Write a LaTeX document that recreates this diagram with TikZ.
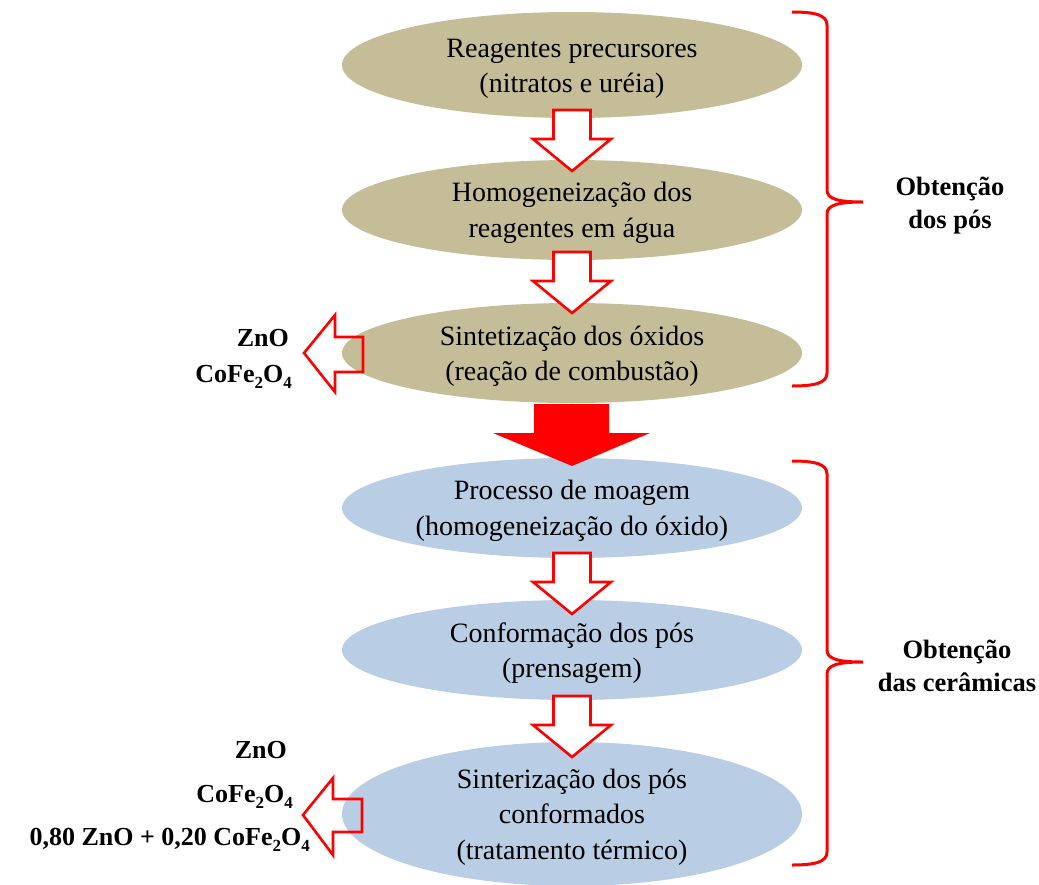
\documentclass[tikz,border=0pt]{standalone}
\usepackage{fontspec}
\setmainfont{Liberation Serif}
\usetikzlibrary{shapes.geometric}
\definecolor{tan}{RGB}{196,189,151}
\definecolor{lblue}{RGB}{185,205,229}
\definecolor{myred}{RGB}{255,0,0}
\tikzset{
  stage/.style={ellipse, minimum width=460pt, minimum height=100pt, inner sep=0pt},
  tanstage/.style={stage, fill=tan},
  bluestage/.style={stage, fill=lblue},
  stagetext/.style={align=center, inner sep=0pt, font=\fontsize{28}{35.5}\selectfont},
  hollow/.style={draw=myred, line width=2.6pt, fill=white, line join=miter},
  hollowopen/.style={draw=myred, line width=2.6pt, line join=miter},
  bracket/.style={draw=myred, line width=3pt},
  side/.style={font=\fontsize{26.5}{33}\bfseries\selectfont, align=center},
  prod/.style={font=\fontsize{26}{30}\bfseries\selectfont, anchor=base east, inner sep=0pt},
}
\newcommand{\mysub}[1]{\raisebox{-6pt}{\fontsize{17}{17}\bfseries\selectfont #1}}
\newcommand{\myDownArrow}[2]{%
  \draw[hollow] (#1-18.5,#2) -- (#1+18.5,#2) -- (#1+18.5,#2+29) -- (#1+39,#2+29) -- (#1,#2+61)
    -- (#1-39,#2+29) -- (#1-18.5,#2+29) -- cycle;}
\begin{document}
\begin{tikzpicture}[x=1pt,y=-1pt]
\useasboundingbox (0,0) rectangle (1039,884);
% stages
\node[tanstage, minimum height=106pt] (e1) at (572,65) {};
\node[tanstage] (e2) at (572,210) {};
\node[tanstage] (e3) at (572,353) {};
\node[bluestage] (e4) at (572,508) {};
\node[bluestage] (e5) at (572,650) {};
\node[bluestage, minimum height=144pt] (e6) at (572,814) {};
\node[stagetext] (t1) at ([yshift=-4pt]e1.center) {Reagentes precursores\\(nitratos e uréia)};
\node[stagetext] (t2) at ([yshift=-3pt]e2.center) {Homogeneização dos\\reagentes em água};
\node[stagetext] (t3) at ([yshift=-3pt]e3.center) {Sintetização dos óxidos\\(reação de combustão)};
\node[stagetext] (t4) at ([yshift=-3pt]e4.center) {Processo de moagem\\(homogeneização do óxido)};
\node[stagetext] (t5) at ([yshift=-3pt]e5.center) {Conformação dos pós\\(prensagem)};
\node[stagetext] (t6) at ([yshift=-3pt]e6.center) {Sinterização dos pós\\conformados\\(tratamento térmico)};
% down arrows
\myDownArrow{572}{110}
\myDownArrow{572}{252}
\myDownArrow{572}{553}
\myDownArrow{572}{696}
% big red arrow
\fill[myred] (534,404) -- (609,404) -- (609,433) -- (650,433) -- (572,466) -- (493,433) -- (534,433) -- cycle;
% left arrows
\draw[hollowopen] (304,353) -- (335,315) -- (335,337) -- (363,337) -- (363,372) -- (335,372) -- (335,392) -- cycle;
\draw[hollowopen] (303,815) -- (333,778) -- (333,799) -- (362,799) -- (362,832) -- (333,832) -- (333,855) -- cycle;
% products
\node[prod] (p1) at (289,346) {ZnO};
\node[prod] (p2) at (292,382) {CoFe\mysub{2}O\mysub{4}};
\node[prod] (p3) at (287,758) {ZnO};
\node[prod] (p4) at (293,802) {CoFe\mysub{2}O\mysub{4}};
\node[prod] (p5) at (310,845) {0,80 ZnO + 0,20 CoFe\mysub{2}O\mysub{4}};
% braces
\draw[bracket] (792,12) .. controls (815,12) and (827,15) .. (827,25) -- (827,190)
  .. controls (827,199) and (838,202) .. (863,202) .. controls (838,202) and (827,205) .. (827,214)
  -- (827,373) .. controls (827,383) and (815,386) .. (792,386);
\draw[bracket] (792,461) .. controls (815,461) and (827,464) .. (827,474) -- (827,650)
  .. controls (827,659) and (838,662) .. (863,662) .. controls (838,662) and (827,665) .. (827,674)
  -- (827,852) .. controls (827,862) and (815,865) .. (792,865);
% side labels
\node[side] (l1) at (950,206) {Obtenção\\dos pós};
\node[side] (l2) at (957,666) {Obtenção\\das cerâmicas};
\end{tikzpicture}
\end{document}
